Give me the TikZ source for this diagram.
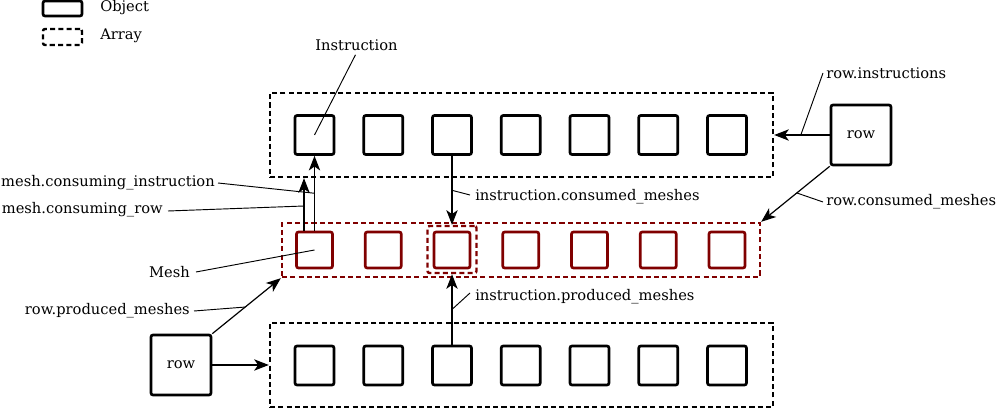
\documentclass[tikz,border=0pt]{standalone}
\usepackage{fontspec}
\setmainfont{DejaVu Serif}
\usetikzlibrary{arrows.meta,calc}
\definecolor{meshred}{HTML}{800000}
\tikzset{
  obj/.style={draw, line width=2pt, rounded corners=1.5pt, minimum width=39*0.75pt, minimum height=39*0.75pt, inner sep=0pt},
  meshobj/.style={draw=meshred, line width=2pt, rounded corners=1.5pt, minimum width=36*0.75pt, minimum height=36*0.75pt, inner sep=0pt},
  rowobj/.style={draw, line width=2pt, rounded corners=1.5pt, minimum width=60*0.75pt, minimum height=60*0.75pt, inner sep=0pt},
  arr/.style={draw, line width=1.8pt, dash pattern=on 3.8pt off 2.4pt, inner sep=0pt},
  conn/.style={line width=0.9pt, -{Stealth[length=11pt,width=8.5pt,inset=3pt]}},
  lbl/.style={line width=0.7pt},
  txt/.style={inner sep=0pt, font=\fontsize{11pt}{13pt}\selectfont},
}
\begin{document}
\begin{tikzpicture}[x=0.75pt,y=-0.75pt]
\useasboundingbox (0,0) rectangle (1000,409);
% legend
\node[draw, line width=2pt, rounded corners=1.5pt, minimum width=39*0.75pt, minimum height=15*0.75pt, inner sep=0pt] (legObj) at (62.5,8.5) {};
\node[arr, rounded corners=1.5pt, minimum width=39*0.75pt, minimum height=16*0.75pt] (legArr) at (62.5,37) {};
\node[txt, anchor=west] (tObj) at (100,8) {Object};
\node[txt, anchor=west] (tArr) at (100,36) {Array};
% arrays
\node[arr, minimum width=503*0.75pt, minimum height=84*0.75pt] (topArr) at (521.5,135) {};
\node[arr, draw=meshred, minimum width=478*0.75pt, minimum height=54*0.75pt] (midArr) at (521,250) {};
\node[arr, minimum width=503*0.75pt, minimum height=84*0.75pt] (botArr) at (521.5,365) {};
\node[arr, draw=meshred, rounded corners=1.5pt, minimum width=49*0.75pt, minimum height=47*0.75pt] (hl) at (452,249.5) {};
% boxes
\foreach \k in {1,...,7}{
  \node[obj] (i\k) at ({314.5+68.75*(\k-1)},135) {};
  \node[meshobj] (m\k) at ({314.5+68.75*(\k-1)},250) {};
  \node[obj] (p\k) at ({314.5+68.75*(\k-1)},365.5) {};
}
\node[rowobj, txt, inner sep=0pt] (rowT) at (861,135) {row};
\node[rowobj, txt, inner sep=0pt] (rowB) at (181,365) {row};
% connectors
\draw[conn] (rowT.west) -- coordinate[pos=0.52] (cRI) (topArr.east);
\draw[conn] (rowT.south west) -- coordinate[pos=0.48] (cRC) (midArr.north east);
\draw[conn] (rowB.east) -- (botArr.west);
\draw[conn] (rowB.north east) -- coordinate[pos=0.48] (cRP) (midArr.south west);
\draw[conn] (i3.south) -- coordinate[pos=0.5] (cIC) (hl.north);
\draw[conn] (p3.north) -- coordinate[pos=0.5] (cIP) (hl.south);
\draw[conn] (m1.north) -- coordinate[pos=0.5] (cMI) (i1.south);
\coordinate (cr) at ($(m1.north)+(-10.5,0)$);
\draw[conn] (cr) -- coordinate[pos=0.47] (cMR) (cr |- topArr.south);
% labels
\node[txt] (tInstr) at (356.5,45) {Instruction};
\node[txt, anchor=east] (tMCI) at (215,183) {mesh.consuming\_instruction};
\node[txt, anchor=east] (tMCR) at (163,210) {mesh.consuming\_row};
\node[txt, anchor=east] (tMesh) at (190,272) {Mesh};
\node[txt, anchor=east] (tRPM) at (190,311) {row.produced\_meshes};
\node[txt, anchor=west] (tICM) at (475,197) {instruction.consumed\_meshes};
\node[txt, anchor=west] (tIPM) at (475,297) {instruction.produced\_meshes};
\node[txt, anchor=west] (tRI) at (826,73) {row.instructions};
\node[txt, anchor=west] (tRCM) at (826,202) {row.consumed\_meshes};
\draw[lbl] ($(tInstr.south)+(-1,4)$) -- (i1.center);
\draw[lbl] ($(tMCI.east)+(3,0)$) -- (cMI);
\draw[lbl] ($(tMCR.east)+(5,1)$) -- (cMR);
\draw[lbl] ($(tMesh.east)+(6,0)$) -- (m1.center);
\draw[lbl] ($(tRPM.east)+(4,0)$) -- (cRP);
\draw[lbl] ($(tICM.west)+(-5,-2)$) -- (cIC);
\draw[lbl] ($(tIPM.west)+(-5,-4)$) -- (cIP);
\draw[lbl] ($(tRI.west)+(-3,0)$) -- (cRI);
\draw[lbl] ($(tRCM.west)+(-3,0)$) -- (cRC);
\end{tikzpicture}
\end{document}
